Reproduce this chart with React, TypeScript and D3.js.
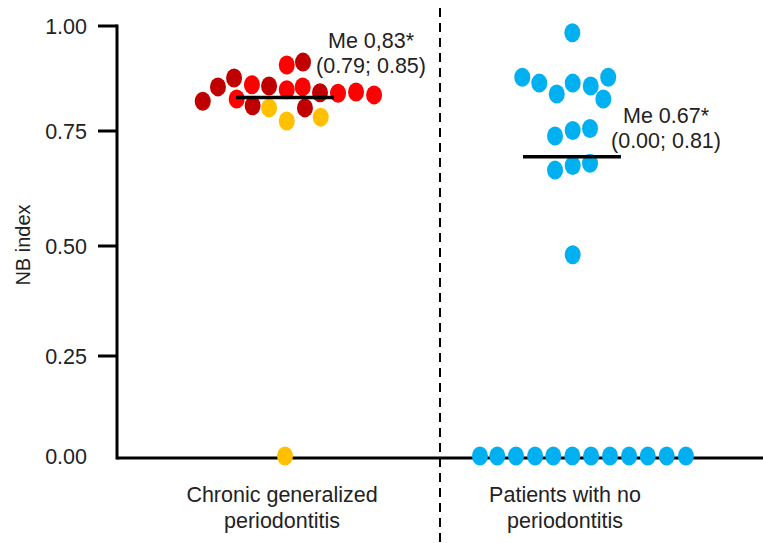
import React from "react";
import * as d3 from "d3";

// groups on the x axis
const groups = ["cgp", "none"];
const groupLabels = [
  ["Chronic generalized", "periodontitis"],
  ["Patients with no", "periodontitis"],
];

// y ticks
const yTicks = [0, 0.25, 0.5, 0.75, 1];
const yTickLabels = ["0.00", "0.25", "0.50", "0.75", "1.00"];

// chronic generalized periodontitis - dark red points
const cgpDarkValues = [0.821, 0.855, 0.876, 0.81, 0.857, 0.914, 0.805, 0.841];
const cgpDarkLanes = [-4.7, -3.83, -2.91, -1.85, -0.91, 1.03, 1.14, 2.0];
// bright red points
const cgpRedValues = [0.826, 0.86, 0.907, 0.848, 0.855, 0.84, 0.843, 0.836];
const cgpRedLanes = [-2.76, -1.89, 0.1, 0.1, 1.01, 3.03, 4.06, 5.09];
// yellow points
const cgpYellowValues = [0.805, 0.774, 0.783, 0];
const cgpYellowLanes = [-0.91, 0.1, 2.04, 0];

// patients with no periodontitis - blue points
const noneValues = [
  0.984, 0.878, 0.864, 0.838, 0.864, 0.857, 0.878, 0.826, 0.739, 0.751, 0.756,
  0.665, 0.675, 0.68, 0.48, 0, 0, 0, 0, 0, 0, 0, 0, 0, 0, 0, 0,
];
const noneLanes = [
  0.02, -2.84, -1.87, -0.87, 0.04, 1.07, 2.07, 1.79, -0.97, 0.04, 1.03, -0.97,
  0.04, 1.03, 0.04, -5.26, -4.27, -3.2, -2.11, -1.07, 0.02, 1.09, 2.17, 3.26,
  4.33, 5.41, 6.51,
];

// medians (line position) and annotation text
const medianValues = [0.83, 0.694];
const medianText = [
  ["Me 0,83*", "(0.79; 0.85)"],
  ["Me 0.67*", "(0.00; 0.81)"],
];

const series = [
  { group: "cgp", color: "#C00000", values: cgpDarkValues, lanes: cgpDarkLanes },
  { group: "cgp", color: "#FF0000", values: cgpRedValues, lanes: cgpRedLanes },
  { group: "cgp", color: "#FFC000", values: cgpYellowValues, lanes: cgpYellowLanes },
  { group: "none", color: "#00B0F0", values: noneValues, lanes: noneLanes },
];

const W = 763;
const H = 543;
const FONT = "'Liberation Sans', Arial, Helvetica, sans-serif";
const FS = 21.5;

export default function App() {
  const axisX = 117;
  const baseY = 458;

  // the printed axis is not evenly spaced, so map each tick to its own position
  const y = d3.scaleLinear().domain(yTicks).range([456, 356, 246, 131, 26]);
  const x = d3.scalePoint().domain(groups).range([285, 572]);
  const lane = d3.scaleLinear().domain([0, 1]).range([0, 17.5]);

  const labelShift = [-3, -7];
  const annX = [86, 94];
  const annY = [48, 123];

  const points = series.flatMap((s) =>
    s.values.map((v, i) => ({ v, lane: s.lanes[i], group: s.group, color: s.color }))
  );

  return (
    <svg
      width={W}
      height={H}
      style={{ position: "absolute", left: 0, top: 0, background: "#fff" }}
      fontFamily={FONT}
    >
      {/* dashed separator */}
      <line x1={440} x2={440} y1={8} y2={H} stroke="#000" strokeWidth={2} strokeDasharray="9,6" />

      {/* y axis */}
      <line x1={axisX} x2={axisX} y1={y(1) - 1.5} y2={baseY + 1.5} stroke="#000" strokeWidth={3} />
      {yTicks.map((t, i) => (
        <g key={t}>
          {t > 0 && (
            <line x1={axisX - 19} x2={axisX} y1={y(t)} y2={y(t)} stroke="#000" strokeWidth={3} />
          )}
          <text x={87} y={y(t)} dy="0.36em" textAnchor="end" fontSize={FS} fill="#222">
            {yTickLabels[i]}
          </text>
        </g>
      ))}
      <text
        transform={`translate(30,${245}) rotate(-90)`}
        textAnchor="middle"
        fontSize={20}
        fill="#222"
      >
        NB index
      </text>

      {/* baseline */}
      <line x1={axisX} x2={W} y1={baseY} y2={baseY} stroke="#000" strokeWidth={3} />

      {/* points */}
      {points.map((p, i) => (
        <ellipse
          key={i}
          cx={x(p.group)! + lane(p.lane)}
          cy={y(p.v)}
          rx={8}
          ry={9.5}
          fill={p.color}
        />
      ))}

      {/* medians */}
      {groups.map((g, i) => (
        <line
          key={g}
          x1={x(g)! - 49}
          x2={x(g)! + 49}
          y1={y(medianValues[i])}
          y2={y(medianValues[i])}
          stroke="#000"
          strokeWidth={3.5}
        />
      ))}

      {/* annotations */}
      {groups.map((g, i) => (
        <text key={g} textAnchor="middle" fontSize={FS} fill="#222">
          <tspan x={x(g)! + annX[i]} y={annY[i]}>{medianText[i][0]}</tspan>
          <tspan x={x(g)! + annX[i]} y={annY[i] + 25}>{medianText[i][1]}</tspan>
        </text>
      ))}

      {/* group labels */}
      {groups.map((g, i) => (
        <text key={g} textAnchor="middle" fontSize={FS} fill="#222">
          <tspan x={x(g)! + labelShift[i]} y={502}>{groupLabels[i][0]}</tspan>
          <tspan x={x(g)! + labelShift[i]} y={528}>{groupLabels[i][1]}</tspan>
        </text>
      ))}
    </svg>
  );
}
